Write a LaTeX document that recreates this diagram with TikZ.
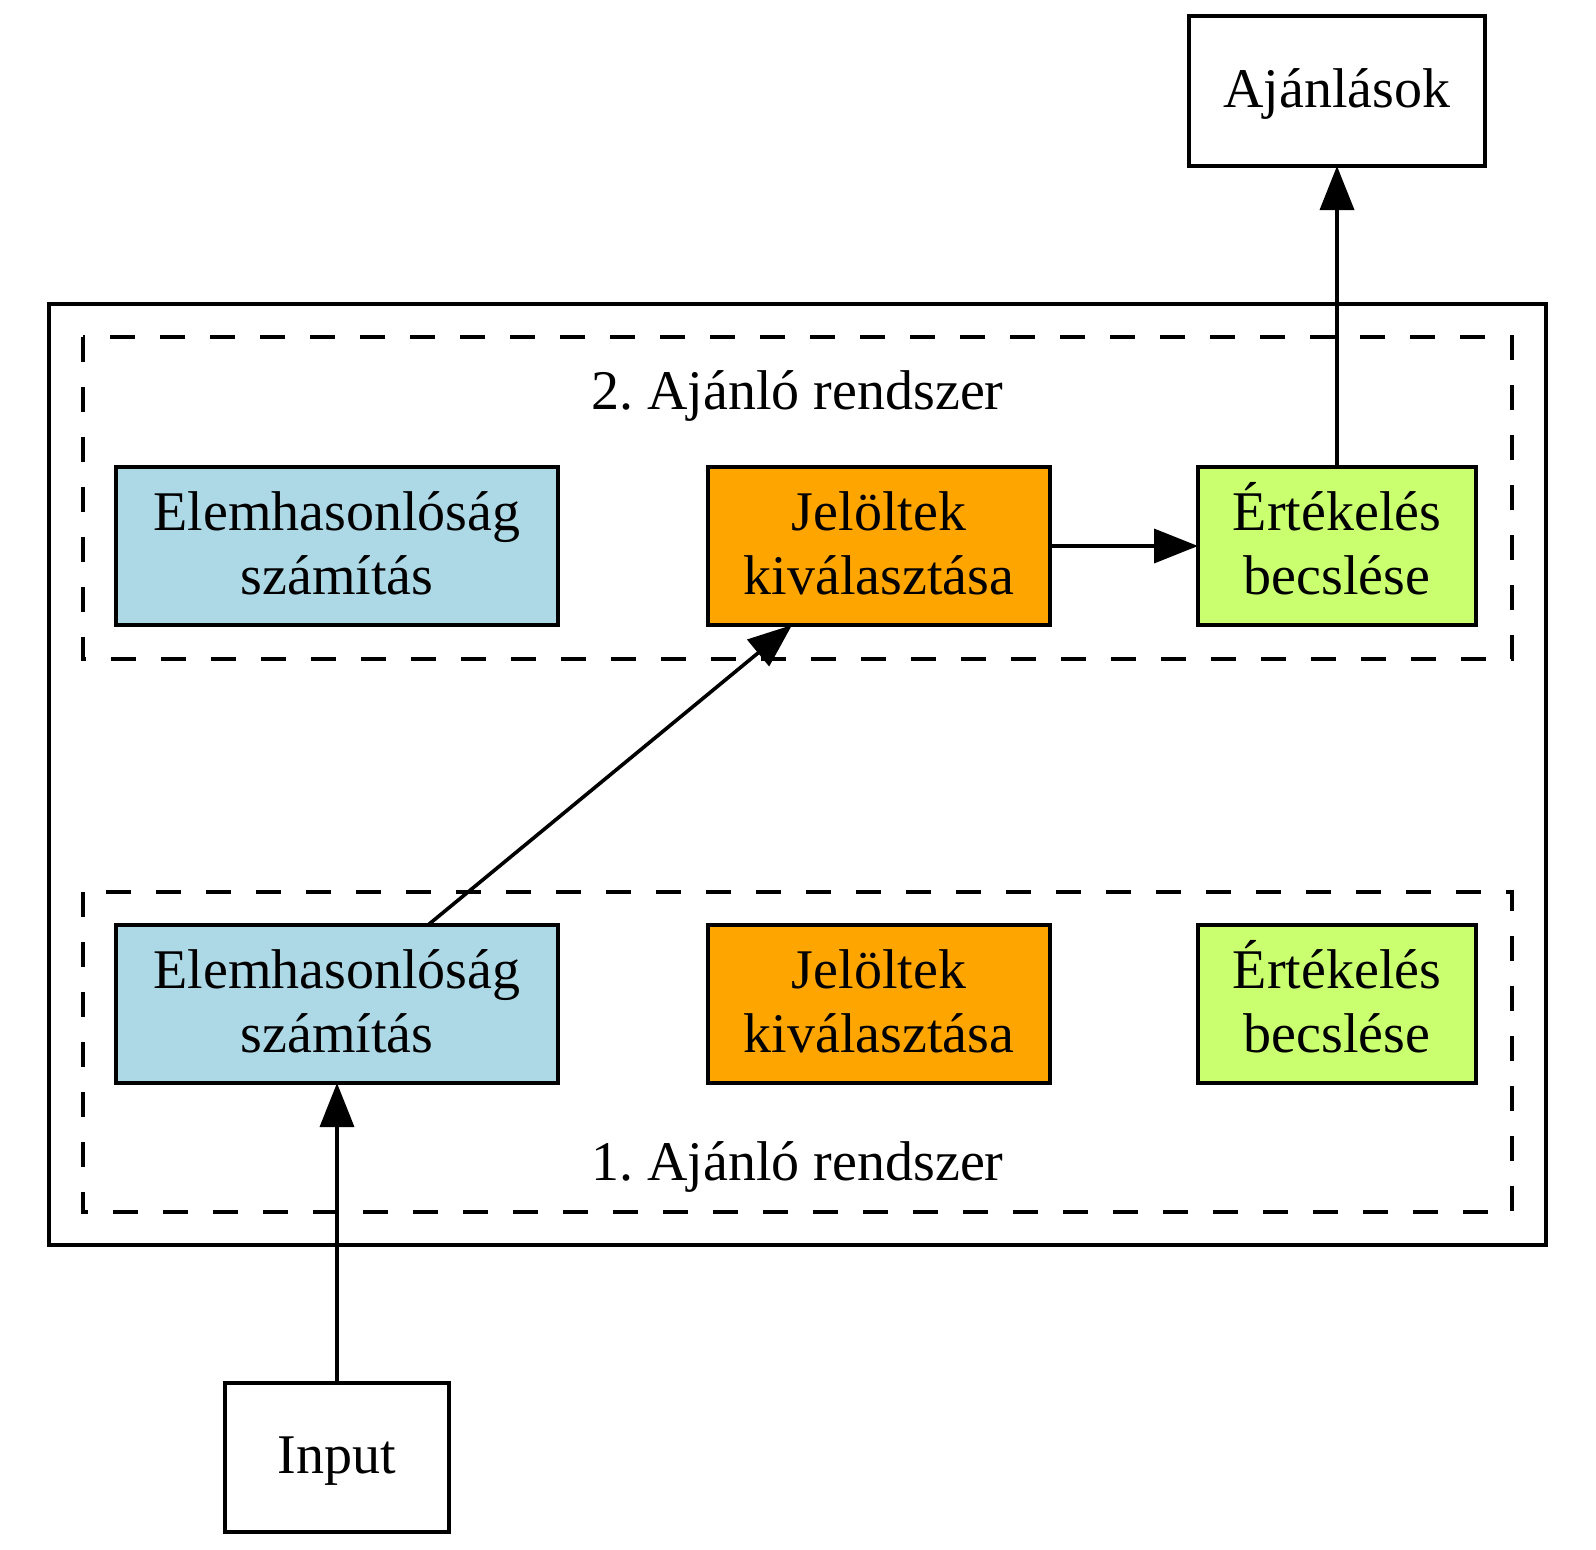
\documentclass[tikz,border=0pt]{standalone}
\usepackage{fontspec}
\setmainfont{Liberation Serif}
\usetikzlibrary{arrows.meta}
\definecolor{boxblue}{HTML}{ADD8E6}
\definecolor{boxorange}{HTML}{FFA500}
\definecolor{boxgreen}{HTML}{CAFF70}
\newcommand\topstr{\rule{0pt}{52pt}}
\newcommand\botstr{\rule[-20pt]{0pt}{20pt}}
\newcommand\onestr{\rule[-20pt]{0pt}{72pt}}
\frenchspacing
\begin{document}
\begin{tikzpicture}[x=1pt,y=-1pt,
  box/.style={draw, line width=3.6pt, inner sep=0pt, outer sep=0pt, align=center,
    font=\fontsize{56}{64}\selectfont},
  wide/.style={box, minimum width=442pt, minimum height=158pt, fill=boxblue},
  mid/.style={box, minimum width=342pt, minimum height=158pt, fill=boxorange},
  narrow/.style={box, minimum width=278pt, minimum height=158pt, fill=boxgreen},
  frame/.style={line width=3.8pt},
  cluster/.style={line width=3.8pt, dash pattern=on 25pt off 25pt},
  clabel/.style={anchor=base, inner sep=0pt, font=\fontsize{56}{64}\selectfont},
  arr/.style={line width=3.6pt, -{Triangle[length=44pt,width=34pt]}}]
\useasboundingbox (0,0) rectangle (1596,1550);
% outer frame and clusters
\draw[frame] (49,304) rectangle (1546,1245);
\draw[cluster] (83,337) rectangle (1512,659);
\draw[cluster] (83,892) rectangle (1512,1212);
\node[clabel] (l2) at (797.5,409) {2. Ajánló rendszer};
\node[clabel] (l1) at (797.5,1180) {1. Ajánló rendszer};
% nodes
\node[box, minimum width=296pt, minimum height=150pt] (aj) at (1337,91) {Ajánlások\onestr};
\node[box, minimum width=224pt, minimum height=149pt] (in) at (337,1457.5) {Input\onestr};
\node[wide] (e2) at (337,546) {Elemhasonlóság\topstr\\számítás\botstr};
\node[mid] (j2) at (879,546) {Jelöltek\topstr\\kiválasztása\botstr};
\node[narrow] (r2) at (1337,546) {Értékelés\topstr\\becslése\botstr};
\node[wide] (e1) at (337,1004) {Elemhasonlóság\topstr\\számítás\botstr};
\node[mid] (j1) at (879,1004) {Jelöltek\topstr\\kiválasztása\botstr};
\node[narrow] (r1) at (1337,1004) {Értékelés\topstr\\becslése\botstr};
% edges
\draw[arr] (in) -- (e1);
\draw[arr] ([xshift=91pt]e1.north) -- ([xshift=-87pt]j2.south);
\draw[arr] (j2) -- (r2);
\draw[arr] (r2) -- (aj);
\end{tikzpicture}
\end{document}
